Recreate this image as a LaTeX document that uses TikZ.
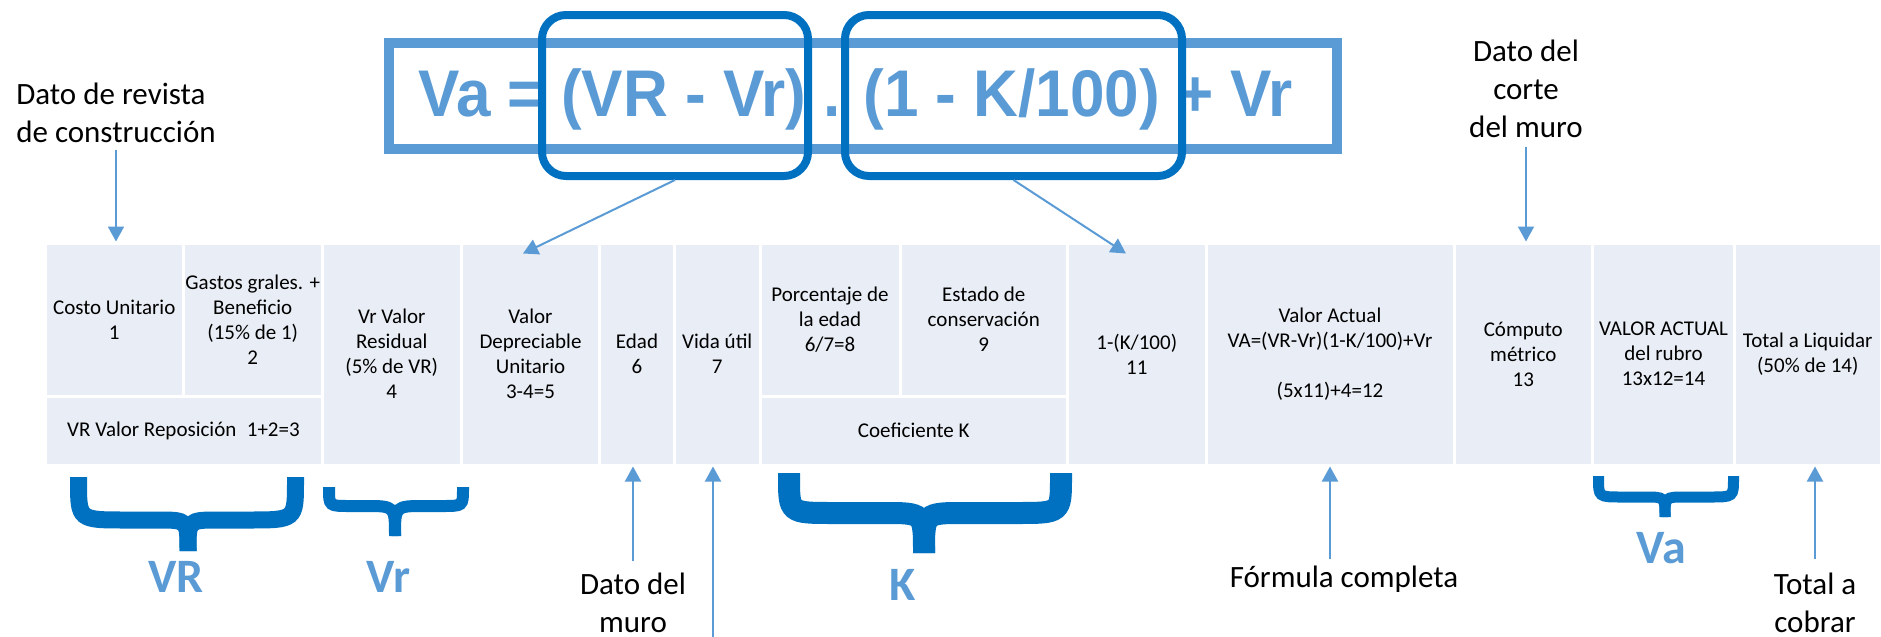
\documentclass[tikz,border=0pt]{standalone}
\usepackage{fontspec}
\setmainfont{Carlito}
\newfontfamily\arialfont{Liberation Sans}
\usepackage{graphicx}
\usepackage{tikz}
\usetikzlibrary{arrows.meta}
\definecolor{azulclaro}{HTML}{5B9BD5}
\definecolor{azuloscuro}{HTML}{0070C0}
\definecolor{fondocelda}{HTML}{E9EDF5}

\newcommand{\llave}[7]{%
  \draw[llave, line width=#7] (#1,#4) -- (#1,{#4+0.1*(#5-#4)})
    .. controls (#1,#5) .. ({#1+1.1*(#5-#4)},#5) -- ({#3-(#6-#5)},#5)
    .. controls (#3,#5) .. (#3,#6);
  \draw[llave, line width=#7] (#2,#4) -- (#2,{#4+0.1*(#5-#4)})
    .. controls (#2,#5) .. ({#2-1.1*(#5-#4)},#5) -- ({#3+(#6-#5)},#5)
    .. controls (#3,#5) .. (#3,#6);}

\begin{document}
\begin{tikzpicture}[x=0.5pt, y=-0.5pt,
  celda/.style={fill=fondocelda, draw=white, line width=1.5pt, align=center, inner sep=0pt, font=\fontsize{10.5}{12.5}\selectfont},
  arriba/.style={celda, minimum height=76.5pt},
  abajo/.style={celda, minimum height=34.5pt},
  entera/.style={celda, minimum height=111pt},
  nota/.style={inner sep=0pt, font=\fontsize{15.5}{19}\selectfont},
  letra/.style={inner sep=0pt, anchor=base, text=azulclaro, font=\fontsize{24}{28}\selectfont\bfseries},
  flecha/.style={draw=azulclaro, line width=1pt, -{Triangle[length=7.5pt,width=8pt]}},
  caja/.style={draw=azuloscuro, line width=4pt, rounded corners=12pt, minimum height=80.5pt},
  llave/.style={draw=azuloscuro, line cap=butt}]
\useasboundingbox (0,0) rectangle (1881,637);

\node[draw=azulclaro, line width=5pt, minimum width=474pt, minimum height=53pt] (marco) at (863,96) {};
\node[anchor=base, inner sep=0pt, text=azulclaro, font=\fontsize{33}{40}\arialfont\bfseries] (formula) at (855.5,116) {\scalebox{0.94}[1]{Va = (VR - Vr) . (1 - K/100) + Vr}};
\node[caja, minimum width=133pt] (caja1) at (675,95.5) {};
\node[caja, minimum width=168.5pt] (caja2) at (1013.5,95.5) {};

\node[arriba, minimum width=69.25pt] (c1) at (114.25,319.5) {Costo Unitario\\1};
\node[arriba, minimum width=69.25pt] (c2) at (252.75,319.5) {Gastos grales. +\\Beneficio\\(15\% de 1)\\2};
\node[abajo, minimum width=138.5pt] (c3) at (183.5,430.5) {VR Valor Reposición\enspace 1+2=3};
\node[entera, minimum width=69.75pt] (c4) at (391.75,354) {Vr Valor\\Residual\\(5\% de VR)\\4};
\node[entera, minimum width=69pt] (c5) at (530.5,354) {Valor\\Depreciable\\Unitario\\3-4=5};
\node[entera, minimum width=37.5pt] (c6) at (637,354) {Edad\\6};
\node[entera, minimum width=42.75pt] (c7) at (717.25,354) {Vida útil\\7};
\node[arriba, minimum width=70pt] (c8) at (830,319.5) {Porcentaje de\\la edad\\6/7=8};
\node[arriba, minimum width=83.75pt] (c9) at (983.75,319.5) {Estado de\\conservación\\9};
\node[abajo, minimum width=153.75pt] (c10) at (913.75,430.5) {Coeficiente K};
\node[entera, minimum width=69.25pt] (c11) at (1136.75,354) {1-(K/100)\\11};
\node[entera, minimum width=124pt] (c12) at (1330,354) {Valor Actual\\VA=(VR-Vr)(1-K/100)+Vr\\[12.5pt](5x11)+4=12};
\node[entera, minimum width=69.25pt] (c13) at (1523.25,354) {Cómputo\\métrico\\13};
\node[entera, minimum width=71pt] (c14) at (1663.5,354) {VALOR ACTUAL\\del rubro\\13x12=14};
\node[entera, minimum width=73.25pt] (c15) at (1807.75,354) {Total a Liquidar\\(50\% de 14)};

\node[nota, align=left, anchor=north] (revista) at (116,83) {Dato de revista\\de construcción};
\node[nota, align=center, anchor=north] (corte) at (1526,40) {Dato del\\corte\\del muro};
\node[nota, align=center, anchor=north] (muro) at (633,573) {Dato del\\muro};
\node[nota, anchor=base] (completa) at (1344,587) {Fórmula completa};
\node[nota, align=center, anchor=north] (cobrar) at (1815,573) {Total a\\cobrar};
\coordinate (vida) at (713,637);

\llave{78.5}{295.5}{188}{477}{520}{551}{8.5pt}
\llave{329}{463}{395}{487}{506}{536}{6pt}
\llave{789}{1061}{924}{473}{513}{553}{11pt}
\llave{1598.5}{1733.5}{1665}{476}{497}{517}{5.5pt}
\node[letra] (VR) at (176,592) {VR};
\node[letra] (Vr) at (389,592) {Vr};
\node[letra] (K) at (903,600) {K};
\node[letra] (Va) at (1661,563) {Va};

\draw[flecha, shorten <=3pt] (revista.south) -- (revista.south |- c1.north);
\draw[flecha, shorten <=4pt] (corte.south) -- (corte.south |- c13.north);
\draw[flecha] (caja1.south) -- ([xshift=-3.75pt,yshift=-6pt]c5.north);
\draw[flecha] (caja2.south) -- ([xshift=-5.4pt,yshift=-6pt]c11.north);
\draw[flecha, shorten <=6pt] (muro.north) -- (muro.north |- c6.south);
\draw[flecha] (vida) -- (vida |- c7.south);
\draw[flecha, shorten <=3pt] (completa.north -| c12.south) -- (c12.south);
\draw[flecha, shorten <=7pt] (cobrar.north) -- (cobrar.north |- c15.south);
\end{tikzpicture}
\end{document}
